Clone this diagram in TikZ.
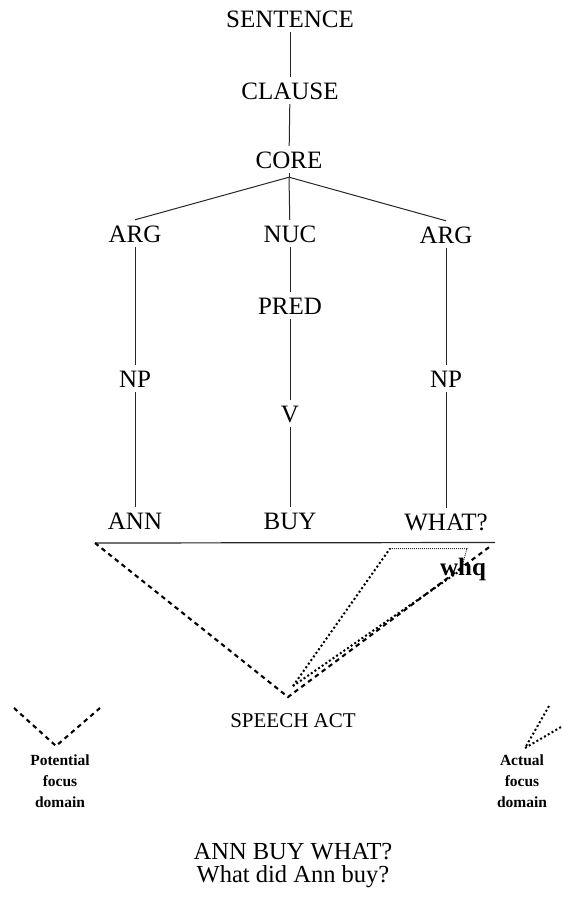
\documentclass[tikz,border=0pt]{standalone}
\usepackage{fontspec}
\setmainfont{Liberation Serif}
\begin{document}
\begin{tikzpicture}[x=1pt,y=-1pt,
  lbl/.style={font=\fontsize{25}{30}\selectfont, anchor=base,
              text height=17pt, text depth=0pt, inner xsep=2pt, inner ysep=5pt},
  branch/.style={draw=black!85, line width=1pt},
  baseline rule/.style={draw=black!85, line width=1.2pt},
  potential/.style={draw=black, line width=2.1pt, dash pattern=on 4.5pt off 4pt},
  actual/.style={draw=black, line width=2pt, dash pattern=on 2pt off 2.4pt},
  fine dots/.style={draw=black!80, line width=1pt, dash pattern=on 1pt off 1pt},
  legend/.style={font=\fontsize{15.5}{21}\selectfont\bfseries, align=center,
                 anchor=north, inner sep=0pt}]
\useasboundingbox (0,0) rectangle (562,900);

% clause structure
\node[lbl] (sentence) at (290,27) {SENTENCE};
\node[lbl] (clause)   at (290,99) {CLAUSE};
\node[lbl] (core)     at (289,168) {CORE};
\node[lbl] (argL)     at (135,242) {ARG};
\node[lbl] (nuc)      at (290,242) {NUC};
\node[lbl] (argR)     at (446,243) {ARG};
\node[lbl] (pred)     at (290,314) {PRED};
\node[lbl] (npL)      at (135,387) {NP};
\node[lbl] (verb)     at (290,422) {V};
\node[lbl] (npR)      at (446,387) {NP};
\node[lbl] (ann)      at (135,529) {ANN};
\node[lbl] (buy)      at (290,529) {BUY};
\node[lbl] (what)     at (446,530) {WHAT?};

\coordinate (fork) at ([yshift=-4pt]core.south);
\draw[branch] (sentence) -- (clause);
\draw[branch] (clause) -- (core);
\draw[branch] (core.south) -- (fork);
\draw[branch] (fork) -- (argL.north);
\draw[branch] (fork) -- (nuc);
\draw[branch] (fork) -- (argR.north);
\draw[branch] (argL) -- (npL);
\draw[branch] (npL) -- (ann);
\draw[branch] (nuc) -- (pred);
\draw[branch] (pred) -- (verb);
\draw[branch] (verb) -- (buy);
\draw[branch] (argR) -- (npR);
\draw[branch] (npR) -- (what);

% sentence line and focus domains
\coordinate (hl) at (95,543);
\coordinate (hr) at (495,542.5);
\draw[baseline rule] (hl) -- (hr);

\node[font=\fontsize{21}{25}\selectfont, anchor=base, inner sep=0pt] (speech) at (293,727) {SPEECH ACT};
\coordinate (apex) at (288,697);
\coordinate (dapex) at (293,686);
\coordinate (hre) at (492,545);
\coordinate (d1) at (390,548.5);
\coordinate (d2) at (467,548.5);
\coordinate (d3) at (461,570);

\draw[potential] (hl) -- (apex) -- (hre);
\draw[actual] (dapex) -- (d1);
\draw[fine dots] (d1) -- (d2) -- (d3);
\draw[actual] (d3) -- (dapex);

\node[font=\fontsize{25}{30}\selectfont\bfseries, anchor=base, inner sep=0pt] (whq) at (463,575) {whq};

% legend
\coordinate (pl) at (14,708);
\coordinate (pa) at (56,746);
\coordinate (pr) at (100,708);
\draw[potential] (pl) -- (pa) -- (pr);
\node[legend] (potlabel) at (60,755) {Potential\\focus\\domain};

\coordinate (aa) at (525,748);
\coordinate (a1) at (549,706);
\coordinate (a2) at (561,727);
\draw[actual] (a1) -- (aa) -- (a2);
\node[legend] (actlabel) at (522,755) {Actual\\focus\\domain};

% example sentence
\node[font=\fontsize{24.5}{23}\selectfont, align=center, anchor=north, inner sep=0pt]
  (example) at (293,843.5) {ANN BUY WHAT?\\What did Ann buy?};
\end{tikzpicture}
\end{document}
